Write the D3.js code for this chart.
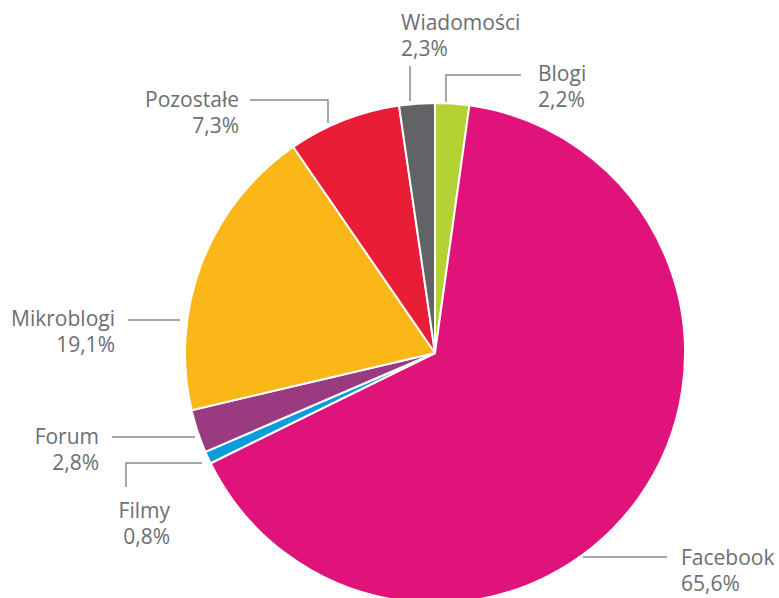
<!DOCTYPE html>
<html>
<head>
<meta charset="utf-8">
<script src="https://cdn.jsdelivr.net/npm/d3@7"></script>
<style>
  body { margin: 0; background: #fff; }
  text { font-family: "Open Sans", sans-serif; fill: #6d6e71; }
</style>
</head>
<body>
<div id="chart"></div>
<script>
// data
var categories = ["Blogi", "Facebook", "Filmy", "Forum", "Mikroblogi", "Pozostałe", "Wiadomości"];
var shares = [2.2, 65.6, 0.8, 2.8, 19.1, 7.3, 2.3];
var labels = ["2,2%", "65,6%", "0,8%", "2,8%", "19,1%", "7,3%", "2,3%"];
var colors = ["#b4d234", "#e0137a", "#0b9dd9", "#9a3a80", "#fbb617", "#e91d35", "#626366"];

var width = 779, height = 598;
var cx = 435, cy = 353, radius = 250;

// leader lines + text positions, relative to pie center
var labelLayout = {
  "Blogi":      {line: [[11, -251], [11, -278], [86, -278]], x: 103, y: -272, anchor: "start"},
  "Facebook":   {line: [[148, 204], [232, 204]], x: 246, y: 212, anchor: "start"},
  "Filmy":      {line: [[-233, 110], [-309, 110], [-309, 134]], x: -265, y: 165, anchor: "end"},
  "Forum":      {line: [[-240, 84], [-323, 84]], x: -336, y: 91, anchor: "end"},
  "Mikroblogi": {line: [[-255, -33], [-307, -33]], x: -320, y: -27, anchor: "end"},
  "Pozostałe":  {line: [[-107, -230], [-107, -253], [-185, -253]], x: -196, y: -246, anchor: "end"},
  "Wiadomości": {line: [[-25, -252], [-25, -287]], x: -34, y: -323, anchor: "start"}
};

var data = categories.map(function(c, i) {
  return {name: c, value: shares[i], label: labels[i], color: colors[i]};
});

var svg = d3.select("#chart")
  .append("svg")
  .attr("width", width)
  .attr("height", height)
  .append("g")
  .attr("transform", "translate(" + cx + "," + cy + ")");

var pie = d3.pie().sort(null).value(function(d) { return d.value; });
var arc = d3.arc().innerRadius(0).outerRadius(radius);

svg.selectAll("path.slice")
  .data(pie(data))
  .enter().append("path")
  .attr("class", "slice")
  .attr("d", arc)
  .attr("fill", function(d) { return d.data.color; })
  .attr("stroke", "#fff")
  .attr("stroke-width", 2)
  .attr("stroke-linejoin", "round");

var line = d3.line();

data.forEach(function(d) {
  var l = labelLayout[d.name];
  svg.append("path")
    .attr("d", line(l.line))
    .attr("fill", "none")
    .attr("stroke", "#8a8a8c")
    .attr("stroke-width", 1.5);

  var t = svg.append("text")
    .attr("text-anchor", l.anchor)
    .attr("font-size", 21);
  t.append("tspan").attr("x", l.x).attr("y", l.y).text(d.name);
  t.append("tspan").attr("x", l.x).attr("y", l.y + 26).text(d.label);
});
</script>
</body>
</html>
